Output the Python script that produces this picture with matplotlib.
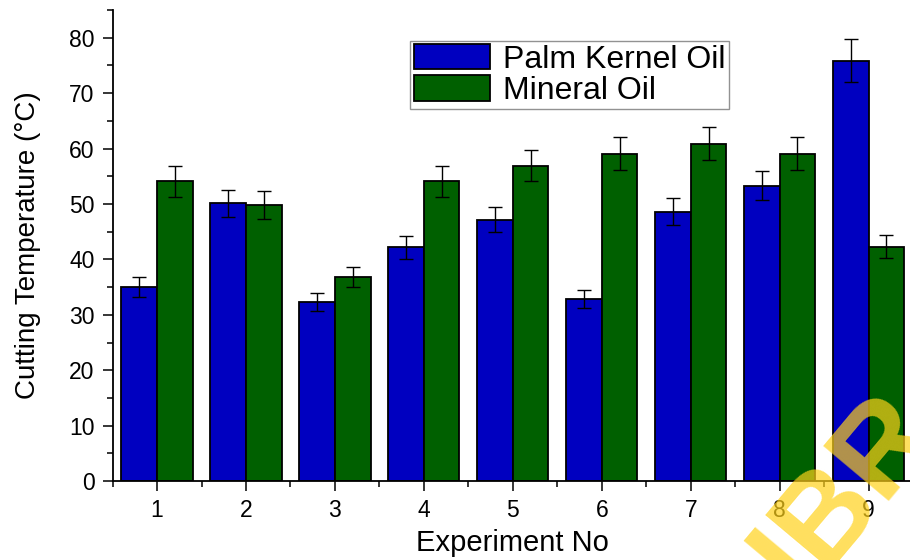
import numpy as np
import matplotlib
matplotlib.use('Agg')
import matplotlib.pyplot as plt
from matplotlib.ticker import MultipleLocator

# experiment numbers and measured cutting temperatures (deg C)
experiments = [1, 2, 3, 4, 5, 6, 7, 8, 9]
palm_kernel = [35.0, 50.1, 32.3, 42.2, 47.2, 32.8, 48.6, 53.3, 75.9]
palm_err = [1.8, 2.5, 1.6, 2.1, 2.3, 1.6, 2.4, 2.6, 3.8]
mineral = [54.1, 49.8, 36.9, 54.1, 56.9, 59.1, 60.9, 59.1, 42.3]
mineral_err = [2.8, 2.5, 1.8, 2.8, 2.8, 3.0, 3.0, 3.0, 2.1]

plt.rcParams['font.family'] = ['Liberation Sans', 'DejaVu Sans']

fig = plt.figure(figsize=(9.1, 5.6), dpi=100)
ax = fig.add_axes([0.1237, 0.141, 0.8797, 0.841])

x = np.array(experiments)
w = 0.4
ax.bar(x - w/2, palm_kernel, w, color='#0000c0', edgecolor='black', lw=1.3,
       label='Palm Kernel Oil', zorder=2)
ax.bar(x + w/2, mineral, w, color='#006000', edgecolor='black', lw=1.3,
       label='Mineral Oil', zorder=2)
ax.errorbar(x - w/2, palm_kernel, yerr=palm_err, fmt='none', ecolor='black',
            elinewidth=1, capsize=5, capthick=1, zorder=3)
ax.errorbar(x + w/2, mineral, yerr=mineral_err, fmt='none', ecolor='black',
            elinewidth=1, capsize=5, capthick=1, zorder=3)

ax.set_xlim(0.5, 9.5)
ax.set_ylim(0, 85)
ax.set_xticks(experiments)
ax.xaxis.set_minor_locator(MultipleLocator(1, offset=0.5))
ax.yaxis.set_major_locator(MultipleLocator(10))
ax.yaxis.set_minor_locator(MultipleLocator(5))
ax.tick_params(which='major', direction='out', length=7, width=1.1, labelsize=16.5, pad=6)
ax.tick_params(which='minor', direction='out', length=4, width=1.1)

for s in ['top', 'right']:
    ax.spines[s].set_visible(False)
for s in ['left', 'bottom']:
    ax.spines[s].set_linewidth(1.3)

ax.set_xlabel('Experiment No', fontsize=21, labelpad=5)
ax.set_ylabel('Cutting Temperature (\u00b0C)', fontsize=20, labelpad=20)

leg = ax.legend(loc='upper left', bbox_to_anchor=(0.372, 0.935), fontsize=23,
                frameon=True, fancybox=False, borderaxespad=0, borderpad=0.1,
                handlelength=2.4, handleheight=0.85, handletextpad=0.4,
                labelspacing=0.02)
leg.get_frame().set_edgecolor('#777777')
leg.get_frame().set_linewidth(1.0)

# watermark in the corner
fig.text(0.93, 0.12, 'IBR', fontsize=90, fontweight='bold', color='#ffd21a',
         alpha=0.7, rotation=50, ha='center', va='center', zorder=10)

fig.savefig('out.png', dpi=100)
